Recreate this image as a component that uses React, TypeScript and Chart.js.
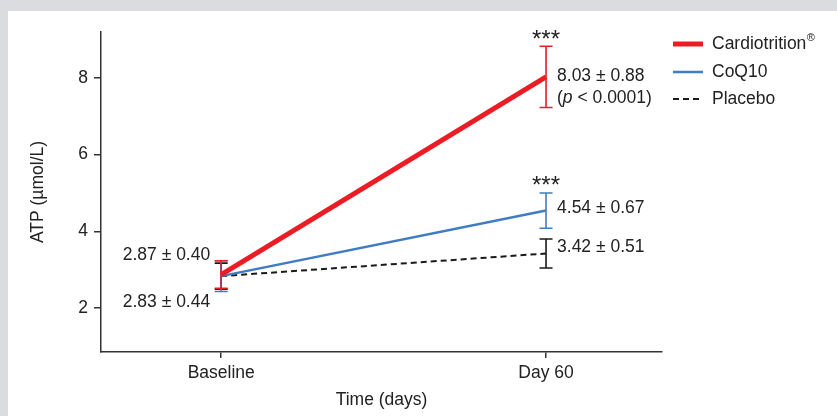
import React, { useEffect, useRef } from "react";
import { Chart, registerables } from "chart.js";
Chart.register(...registerables);

const categories = ["Baseline", "Day 60"];
const seriesNames = ["Cardiotrition", "CoQ10", "Placebo"];
const cardioValues = [2.87, 8.03];
const cardioErr = [0.36, 0.8];
const coq10Values = [2.83, 4.54];
const coq10Err = [0.4, 0.46];
const placeboValues = [2.83, 3.42];
const placeboErr = [0.34, 0.38];
const yTicks = [2, 4, 6, 8];
const baselineLabels = ["2.87 ± 0.40", "2.83 ± 0.44"];
const day60Labels = ["8.03 ± 0.88", "4.54 ± 0.67", "3.42 ± 0.51"];
const pValueParts = ["(", "p", " < 0.0001)"];
const significance = "***";

const RED = "#ec1c24";
const BLUE = "#3f7cc4";
const BLACK = "#1a1a1a";
const TEXT = "#222222";
const AXIS = "#333333";
const FONT = "'Liberation Sans', Arial, Helvetica, sans-serif";
const FS = 17.5;

const errorBarsPlugin = {
  id: "errorBars",
  beforeDatasetsDraw(chart: any) {
    const { ctx, scales } = chart;
    const xs = scales.x;
    const ys = scales.y;
    const series = [
      { v: placeboValues, e: placeboErr, c: BLACK },
      { v: coq10Values, e: coq10Err, c: BLUE },
      { v: cardioValues, e: cardioErr, c: RED },
    ];
    ctx.save();
    ctx.lineWidth = 1.6;
    series.forEach((s) => {
      ctx.strokeStyle = s.c;
      s.v.forEach((val, i) => {
        const x = xs.getPixelForValue(i);
        const yt = ys.getPixelForValue(val + s.e[i]);
        const yb = ys.getPixelForValue(val - s.e[i]);
        const hw = 6.5;
        ctx.beginPath();
        ctx.moveTo(x, yt);
        ctx.lineTo(x, yb);
        ctx.moveTo(x - hw, yt);
        ctx.lineTo(x + hw, yt);
        ctx.moveTo(x - hw, yb);
        ctx.lineTo(x + hw, yb);
        ctx.stroke();
      });
    });
    ctx.restore();
  },
};

const annotationsPlugin = {
  id: "annotations",
  afterDatasetsDraw(chart: any) {
    const { ctx, scales, chartArea } = chart;
    const xs = scales.x;
    const ys = scales.y;
    const x0 = xs.getPixelForValue(0);
    const x1 = xs.getPixelForValue(1);
    ctx.save();
    ctx.fillStyle = TEXT;
    ctx.font = `${FS}px ${FONT}`;
    ctx.textBaseline = "middle";
    ctx.textAlign = "right";
    ctx.fillText(baselineLabels[0], x0 - 11, ys.getPixelForValue(cardioValues[0]) - 19);
    ctx.fillText(baselineLabels[1], x0 - 11, ys.getPixelForValue(coq10Values[0]) + 26);
    ctx.textAlign = "left";
    const yr = ys.getPixelForValue(cardioValues[1]);
    ctx.fillText(day60Labels[0], x1 + 11, yr - 1);
    let px = x1 + 11;
    const py = yr + 21;
    ctx.fillText(pValueParts[0], px, py);
    px += ctx.measureText(pValueParts[0]).width;
    ctx.font = `italic ${FS}px ${FONT}`;
    ctx.fillText(pValueParts[1], px, py);
    px += ctx.measureText(pValueParts[1]).width;
    ctx.font = `${FS}px ${FONT}`;
    ctx.fillText(pValueParts[2], px, py);
    ctx.fillText(day60Labels[1], x1 + 11, ys.getPixelForValue(coq10Values[1]) - 2);
    ctx.fillText(day60Labels[2], x1 + 11, ys.getPixelForValue(placeboValues[1]) - 6);
    ctx.textAlign = "center";
    ctx.textBaseline = "alphabetic";
    ctx.font = `24px ${FONT}`;
    ctx.fillText(significance, x1, ys.getPixelForValue(cardioValues[1] + cardioErr[1]) + 1);
    ctx.fillText(significance, x1, ys.getPixelForValue(coq10Values[1] + coq10Err[1]));

    const lx = chartArea.right + 11;
    const lw = 30;
    const tx = lx + 39;
    const rows = [
      { y: chartArea.top + 12, c: RED, w: 5, dash: [] as number[] },
      { y: chartArea.top + 40, c: BLUE, w: 2.5, dash: [] as number[] },
      { y: chartArea.top + 67, c: BLACK, w: 2, dash: [6, 4] },
    ];
    rows.forEach((r, i) => {
      ctx.save();
      ctx.strokeStyle = r.c;
      ctx.lineWidth = r.w;
      ctx.setLineDash(r.dash);
      ctx.beginPath();
      ctx.moveTo(lx, r.y);
      ctx.lineTo(lx + (i === 2 ? 28 : lw), r.y);
      ctx.stroke();
      ctx.restore();
      ctx.fillStyle = TEXT;
      ctx.textAlign = "left";
      ctx.textBaseline = "middle";
      ctx.font = `${FS}px ${FONT}`;
      ctx.fillText(seriesNames[i], tx, r.y);
      if (i === 0) {
        const w = ctx.measureText(seriesNames[i]).width;
        ctx.font = `11px ${FONT}`;
        ctx.fillText("®", tx + w + 0.5, r.y - 6);
      }
    });
    ctx.restore();
  },
};

export default function App() {
  const ref = useRef<HTMLCanvasElement | null>(null);
  useEffect(() => {
    if (!ref.current) return;
    const toPts = (arr: number[]) => arr.map((v, i) => ({ x: i, y: v }));
    const chart = new Chart(ref.current, {
      type: "line",
      data: {
        datasets: [
          { label: seriesNames[0], data: toPts(cardioValues), borderColor: RED, borderWidth: 5, pointRadius: 0, tension: 0, borderCapStyle: "butt" },
          { label: seriesNames[1], data: toPts(coq10Values), borderColor: BLUE, borderWidth: 2.5, pointRadius: 0, tension: 0 },
          { label: seriesNames[2], data: toPts(placeboValues), borderColor: BLACK, borderWidth: 2, borderDash: [6, 4], pointRadius: 0, tension: 0 },
        ],
      },
      options: {
        responsive: false,
        animation: false,
        layout: { padding: { left: 0, top: 21, right: 175, bottom: 0 } },
        plugins: { legend: { display: false }, tooltip: { enabled: false } },
        scales: {
          x: {
            type: "linear",
            min: -0.37,
            max: 1.357,
            afterBuildTicks: (s: any) => {
              s.ticks = categories.map((_, i) => ({ value: i }));
            },
            afterFit: (s: any) => {
              s.height = 64;
            },
            ticks: {
              color: TEXT,
              font: { family: FONT, size: FS },
              padding: 5,
              maxRotation: 0,
              autoSkip: false,
              callback: (v: any) => categories[v] ?? "",
            },
            grid: { drawOnChartArea: false, drawTicks: true, tickLength: 6, color: AXIS, lineWidth: 1.5 },
            border: { display: true, color: AXIS, width: 1.5 },
            title: { display: true, text: "Time (days)", color: TEXT, font: { family: FONT, size: FS }, padding: { top: 0, bottom: 5.5 } },
          },
          y: {
            type: "linear",
            min: 0.85,
            max: 9.2,
            afterBuildTicks: (s: any) => {
              s.ticks = yTicks.map((v) => ({ value: v }));
            },
            afterFit: (s: any) => {
              s.width = 93;
            },
            ticks: {
              color: TEXT,
              font: { family: FONT, size: FS },
              padding: 6,
              callback: (v: any) => String(v),
            },
            grid: { drawOnChartArea: false, drawTicks: true, tickLength: 7, color: AXIS, lineWidth: 1.5 },
            border: { display: true, color: AXIS, width: 1.5 },
            title: { display: true, text: "ATP (µmol/L)", color: TEXT, font: { family: FONT, size: FS }, padding: { top: 20, bottom: 0 } },
          },
        },
      },
      plugins: [errorBarsPlugin, annotationsPlugin],
    } as any);
    return () => chart.destroy();
  }, []);
  return (
    <div style={{ position: "fixed", left: 0, top: 0, width: 837, height: 416, background: "#dbdce0" }}>
      <div style={{ position: "absolute", left: 8, top: 11, width: 829, height: 405, background: "#ffffff" }}>
        <canvas ref={ref} width={829} height={405} style={{ display: "block" }} />
      </div>
    </div>
  );
}
